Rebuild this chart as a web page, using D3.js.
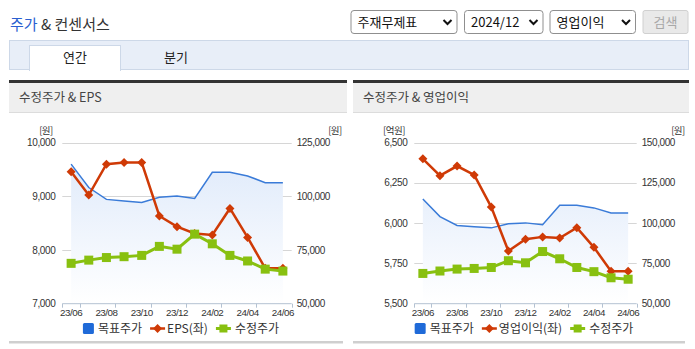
<!DOCTYPE html>
<html><head><meta charset="utf-8">
<script src="https://cdn.jsdelivr.net/npm/d3@7"></script>
<style>
html,body{margin:0;padding:0;background:#fff;}
svg{display:block;font-family:"Noto Sans CJK KR","Noto Sans",sans-serif;}
.num{font-family:"Liberation Sans",Arial,sans-serif;}
</style></head>
<body><svg id="c" width="695" height="349"></svg>
<script>
const months = ["23/06","23/07","23/08","23/09","23/10","23/11","23/12","24/01","24/02","24/03","24/04","24/05","24/06"];
const targetPrice = [115000,104100,98600,97800,97100,99600,100200,99000,111200,111200,109500,106400,106400];
const adjPrice = [68800,70300,71500,71900,72500,76700,75400,82400,77900,72500,69900,66100,65200];
const eps = [9460,9025,9600,9630,9630,8635,8435,8310,8280,8775,8235,7660,7660];
const opProfit = [6400,6295,6355,6300,6100,5827,5900,5915,5908,5972,5850,5702,5702];
const epsTicks = [7000,8000,9000,10000];
const opTicks = [5500,5750,6000,6250,6500];
const priceTicksL = [50000,75000,100000,125000];
const priceTicksR = [50000,75000,100000,125000,150000];

const svg = d3.select("#c");
const BLUE="#3a7bd8", RED="#cf3a06", GREEN="#88c010";

// Header
const t = svg.append("text").attr("x",10).attr("y",30).attr("font-size",15);
t.append("tspan").attr("fill","#2a5fd0").text("주가");
t.append("tspan").attr("fill","#333").text(" & 컨센서스");

function select(x0,x1,label){
  svg.append("rect").attr("x",x0+0.5).attr("y",10.5).attr("width",x1-x0-1).attr("height",23).attr("rx",3)
    .attr("fill","#fff").attr("stroke","#8f8f8f");
  svg.append("text").attr("x",x0+7).attr("y",27).attr("font-size",13).attr("fill","#111").text(label);
  const cx=x1-10;
  svg.append("path").attr("d",`M${cx-4},20 L${cx},24 L${cx+4},20`).attr("fill","none").attr("stroke","#111").attr("stroke-width",2);
}
select(350.5,457.5,"주재무제표");
select(464,543.5,"2024/12");
select(549.5,636,"영업이익");
svg.append("rect").attr("x",643).attr("y",10.5).attr("width",45).attr("height",23).attr("rx",2)
  .attr("fill","#e9e9e9").attr("stroke","#d0d0d0");
svg.append("text").attr("x",665.5).attr("y",27).attr("text-anchor","middle").attr("font-size",13).attr("fill","#a8a8a8").text("검색");

// Tab bar
svg.append("rect").attr("x",9.5).attr("y",40.5).attr("width",679).attr("height",29).attr("fill","#e8eef8").attr("stroke","#cdd8e8");
svg.append("rect").attr("x",29.5).attr("y",45.5).attr("width",91).attr("height",25).attr("fill","#fff").attr("stroke","#cdd8e8");
svg.append("rect").attr("x",30).attr("y",68).attr("width",90).attr("height",3).attr("fill","#fff");
svg.append("text").attr("x",75).attr("y",62).attr("text-anchor","middle").attr("font-size",13).attr("fill","#222").text("연간");
svg.append("text").attr("x",176).attr("y",62).attr("text-anchor","middle").attr("font-size",13).attr("fill","#222").text("분기");

function panel(x0,x1,title){
  svg.append("rect").attr("x",x0).attr("y",82).attr("width",x1-x0).attr("height",30).attr("fill","#efefef");
  svg.append("rect").attr("x",x0).attr("y",80).attr("width",x1-x0).attr("height",3).attr("fill","#333");
  svg.append("line").attr("x1",x0).attr("x2",x1).attr("y1",112.5).attr("y2",112.5).attr("stroke","#dcdcdc");
  svg.append("text").attr("x",x0+10).attr("y",102).attr("font-size",12.5).attr("fill","#444").text(title);
  svg.append("rect").attr("x",x0).attr("y",341).attr("width",x1-x0-4).attr("height",2.5).attr("fill","#cfcfcf");
}
panel(9,347,"수정주가 & EPS");
panel(353,689,"수정주가 & 영업이익");

let gid=0;
function chart(cfg){
  const g = svg.append("g");
  const x = d3.scaleBand().domain(months).range([cfg.x0,cfg.x1]);
  const yL = d3.scaleLinear().domain(d3.extent(cfg.lTicks)).range([303.7,142.7]);
  const yR = d3.scaleLinear().domain(d3.extent(cfg.rTicks)).range([303.7,142.7]);
  const cx = d => x(d)+x.bandwidth()/2;

  // grid
  g.selectAll(".grid").data(cfg.lTicks.slice(1)).join("line")
    .attr("x1",cfg.x0).attr("x2",cfg.x1).attr("y1",d=>Math.round(yL(d))+0.5).attr("y2",d=>Math.round(yL(d))+0.5)
    .attr("stroke","#d6d6d6");
  // left labels
  g.selectAll(".ll").data(cfg.lTicks).join("text").attr("class","num")
    .attr("x",cfg.x0-7).attr("y",d=>yL(d)+3.5).attr("text-anchor","end").attr("font-size",10).attr("letter-spacing",-0.4)
    .attr("fill","#333").text(d=>d3.format(",")(d));
  g.selectAll(".rl").data(cfg.rTicks).join("text").attr("class","num")
    .attr("x",cfg.x1+5).attr("y",d=>yR(d)+3.5).attr("text-anchor","start").attr("font-size",10).attr("letter-spacing",-0.4)
    .attr("fill","#333").text(d=>d3.format(",")(d));
  g.append("text").attr("x",cfg.lUnitX).attr("y",134).attr("text-anchor","middle").attr("font-size",9.5).attr("letter-spacing",-0.5).attr("fill","#333").text(cfg.lUnit);
  g.append("text").attr("x",cfg.rUnitX).attr("y",134).attr("text-anchor","middle").attr("font-size",9.5).attr("letter-spacing",-0.5).attr("fill","#333").text("[원]");

  // area gradient
  const id="grad"+(gid++);
  const gr = svg.append("defs").append("linearGradient").attr("id",id).attr("x1",0).attr("y1",0).attr("x2",0).attr("y2",1)
    .attr("gradientUnits","userSpaceOnUse").attr("y1",142).attr("y2",304);
  gr.append("stop").attr("offset",0).attr("stop-color","#dce8fa");
  gr.append("stop").attr("offset",1).attr("stop-color","#ffffff");
  const tp = months.map((m,i)=>({m,v:targetPrice[i]}));
  g.append("path").datum(tp).attr("fill",`url(#${id})`)
    .attr("d",d3.area().x(d=>cx(d.m)).y0(303.7).y1(d=>yR(d.v)));
  g.append("path").datum(tp).attr("fill","none").attr("stroke",BLUE).attr("stroke-width",1.5)
    .attr("d",d3.line().x(d=>cx(d.m)).y(d=>yR(d.v)));

  // x axis
  const ax = g.append("g").attr("transform","translate(0,303.7)");
  ax.append("line").attr("x1",cfg.x0).attr("x2",cfg.x1).attr("stroke","#b4c2d2");
  const tickPos = [cfg.x0].concat(months.filter((m,i)=>i%2===0).map(m=>x(m)+x.bandwidth()));
  ax.selectAll(".tk").data(tickPos).join("line").attr("x1",d=>Math.round(d)+0.5).attr("x2",d=>Math.round(d)+0.5)
    .attr("y1",0).attr("y2",4).attr("stroke","#b4c2d2");
  ax.selectAll(".xl").data(months.filter((m,i)=>i%2===0)).join("text").attr("class","num")
    .attr("x",d=>cx(d)).attr("y",12.8).attr("text-anchor","middle").attr("font-size",9.8).attr("letter-spacing",-0.5)
    .attr("fill","#333").text(d=>d);

  // left series
  const ls = months.map((m,i)=>({m,v:cfg.lData[i]}));
  g.append("path").datum(ls).attr("fill","none").attr("stroke",RED).attr("stroke-width",2.5)
    .attr("d",d3.line().x(d=>cx(d.m)).y(d=>yL(d.v)));
  g.selectAll(".dm").data(ls).join("path").attr("fill",RED)
    .attr("transform",d=>`translate(${cx(d.m)},${yL(d.v)})`).attr("d","M0,-4.5L4.5,0L0,4.5L-4.5,0Z");

  // adj price
  const ap = months.map((m,i)=>({m,v:adjPrice[i]}));
  g.append("path").datum(ap).attr("fill","none").attr("stroke",GREEN).attr("stroke-width",3)
    .attr("d",d3.line().x(d=>cx(d.m)).y(d=>yR(d.v)));
  g.selectAll(".sq").data(ap).join("rect").attr("fill",GREEN)
    .attr("x",d=>cx(d.m)-4.5).attr("y",d=>yR(d.v)-4.5).attr("width",9).attr("height",9);

  // legend
  const LY = 328.5, FS = 12;
  const lg = g.append("g");
  const i1 = lg.append("g");
  i1.append("rect").attr("x",0).attr("y",-5.5).attr("width",11).attr("height",11).attr("rx",1.5).attr("fill","#1f6ad8");
  const t1 = i1.append("text").attr("x",15).attr("y",4.3).attr("font-size",FS).attr("fill","#333").text("목표주가");
  const w1 = 15 + t1.node().getComputedTextLength();
  const i2 = lg.append("g").attr("transform",`translate(${w1+8},0)`);
  i2.append("line").attr("x1",0).attr("x2",15).attr("stroke",RED).attr("stroke-width",2.5);
  i2.append("path").attr("transform","translate(7.5,0)").attr("d","M0,-4.5L4.5,0L0,4.5L-4.5,0Z").attr("fill",RED);
  const t2 = i2.append("text").attr("x",17).attr("y",4.3).attr("font-size",FS).attr("fill","#333").text(cfg.lName);
  const w2 = 17 + t2.node().getComputedTextLength();
  const i3 = lg.append("g").attr("transform",`translate(${w1+8+w2+8},0)`);
  i3.append("line").attr("x1",0).attr("x2",15).attr("stroke",GREEN).attr("stroke-width",3);
  i3.append("rect").attr("x",3.5).attr("y",-4).attr("width",8).attr("height",8).attr("fill",GREEN);
  const t3 = i3.append("text").attr("x",19).attr("y",4.3).attr("font-size",FS).attr("fill","#333").text("수정주가");
  const total = w1+8+w2+8+19+t3.node().getComputedTextLength();
  lg.attr("transform",`translate(${cfg.legC-total/2},${LY})`);
}

chart({x0:62.3,x1:291.7,lTicks:epsTicks,rTicks:priceTicksL,lData:eps,lName:"EPS(좌)",lUnit:"[원]",lUnitX:46,rUnitX:335,legC:181});
chart({x0:414.3,x1:636.7,lTicks:opTicks,rTicks:priceTicksR,lData:opProfit,lName:"영업이익(좌)",lUnit:"[억원]",lUnitX:394,rUnitX:678,legC:524});
</script></body></html>
